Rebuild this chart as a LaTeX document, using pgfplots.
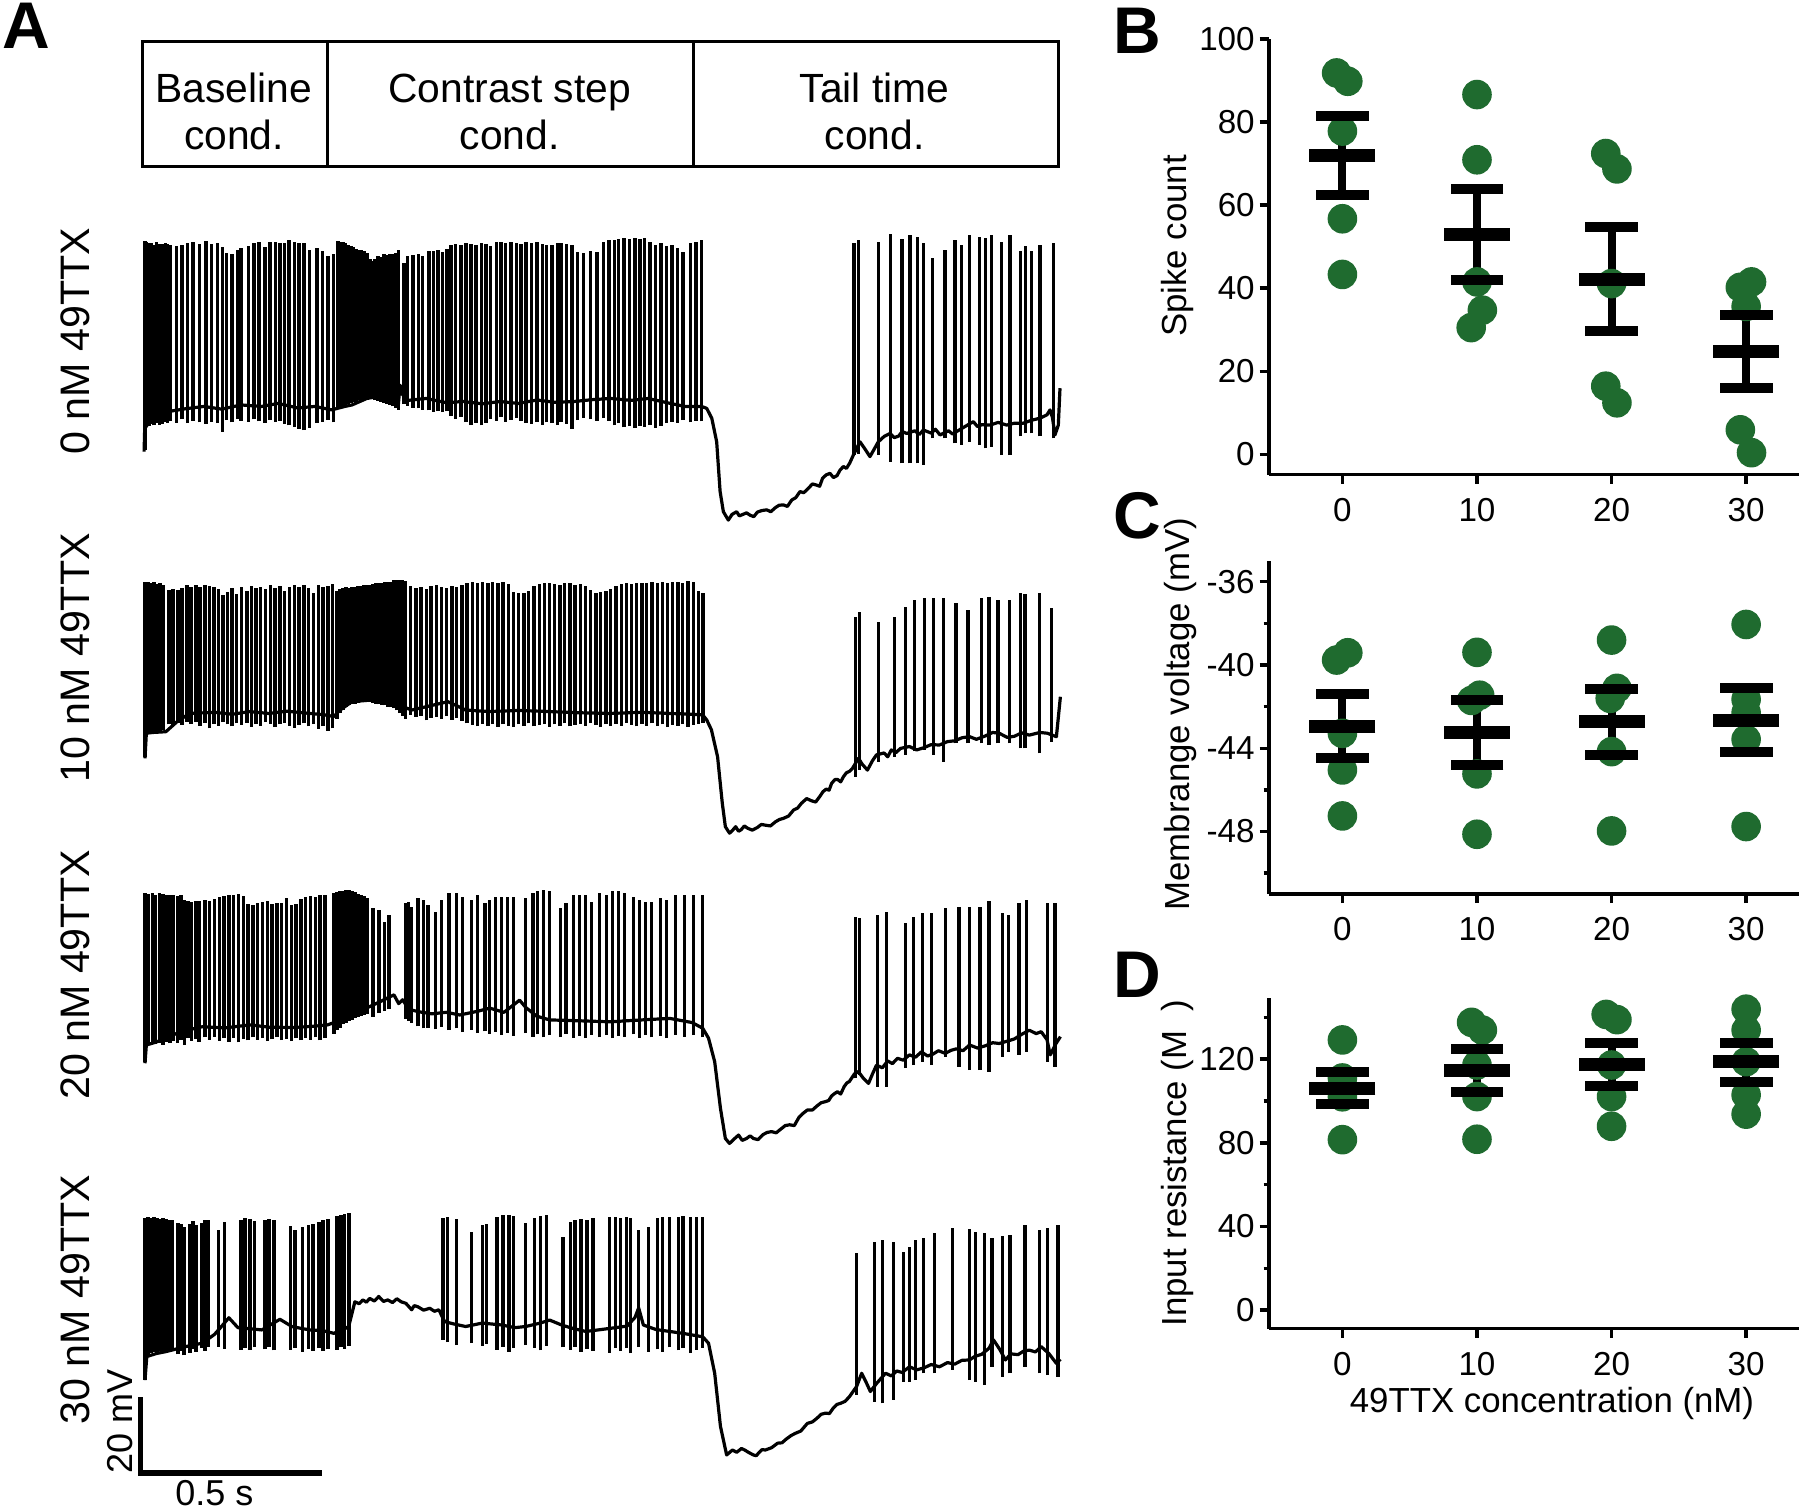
\documentclass[border=0pt]{standalone}
\usepackage{fontspec}
\setmainfont{Liberation Sans}
\usepackage{pgfplots}
\pgfplotsset{compat=1.18}
\definecolor{dotgreen}{RGB}{31,107,47}
\pgfplotsset{
  trace/.style={x=0.0905pt, y=0.95pt, xmin=0, xmax=2540, ymin=-80, ymax=5, hide axis, clip=false, anchor=south west},
  base/.style={black, line width=0.8pt, line join=round, mark=none},
  spk/.style={black, line width=0.85pt, mark=none, quiver={u=0, v=\thisrow{hi}-\thisrow{lo}}},
  rpanel/.style={scale only axis, width=132.45pt, anchor=south west, xmin=-5.47, xmax=33.9,
    xtick={0,10,20,30}, axis x line*=bottom, axis y line*=left,
    axis line style={line width=0.85pt}, tick align=outside,
    major tick length=2.3pt, minor tick length=1.3pt,
    tick style={line width=0.85pt, black},
    tick label style={font=\fontsize{8.3}{9}\selectfont},
    yticklabel style={xshift=2.3pt},
    label style={font=\fontsize{8.7}{10}\selectfont},
    /pgf/number format/assume math mode=true, clip=false},
  dots/.style={only marks, mark=*, mark size=3.5pt, color=dotgreen},
  meanbar/.style={only marks, mark=-, mark size=8.25pt, line width=3.25pt, black},
  capbar/.style={only marks, mark=-, mark size=6.6pt, line width=2.5pt, black},
  stem/.style={black, line width=2pt, mark=none, quiver={u=0, v=\thisrow{hi}-\thisrow{lo}}}
}
\begin{document}
\begin{tikzpicture}
\useasboundingbox (0,0) rectangle (450pt,377.25pt);
\node[font=\bfseries\fontsize{16.5}{18}\selectfont] at (6.5pt,370.75pt) {A};
\node[font=\bfseries\fontsize{16.5}{18}\selectfont] at (284.25pt,369.5pt) {B};
\node[font=\bfseries\fontsize{16.5}{18}\selectfont] at (284.25pt,248.25pt) {C};
\node[font=\bfseries\fontsize{16.5}{18}\selectfont] at (284.25pt,133.5pt) {D};

% ---------------- Trace 1 : 0 nM ----------------
\begin{axis}[trace, at={(35.5pt,242pt)}]
\draw[line width=0.7pt] (axis cs:1.7,18.5) rectangle (axis cs:2531.8,51.4);
\draw[line width=0.7pt] (axis cs:513.3,18.5) -- (axis cs:513.3,51.4);
\draw[line width=0.7pt] (axis cs:1523.5,18.5) -- (axis cs:1523.5,51.4);
\node[anchor=base, font=\fontsize{10.2}{12}\selectfont] at (axis cs:254,35.34) {Baseline};
\node[anchor=base, font=\fontsize{10.2}{12}\selectfont] at (axis cs:254,22.9) {cond.};
\node[anchor=base, font=\fontsize{10.2}{12}\selectfont] at (axis cs:1015.5,35.34) {Contrast step};
\node[anchor=base, font=\fontsize{10.2}{12}\selectfont] at (axis cs:1015.5,22.9) {cond.};
\node[anchor=base, font=\fontsize{10.2}{12}\selectfont] at (axis cs:2023.8,35.34) {Tail time};
\node[anchor=base, font=\fontsize{10.2}{12}\selectfont] at (axis cs:2023.8,22.9) {cond.};
\node[rotate=90, font=\fontsize{10.3}{12}\selectfont] at (axis cs:-185,-27.4) {0 nM 49TTX};
\addplot[base] table[row sep=\\] {t v\\
5.8 -56.5\\ 7.5 -50.4\\ 18 -49.0\\ 40 -47.8\\ 69 -46.0\\ 120 -45.2\\ 171 -44.6\\ 220 -45.3\\ 274 -44.2\\ 330 -44.6\\
376 -43.8\\ 430 -45.0\\ 478 -44.6\\ 524 -45.5\\ 560 -44.6\\ 580 -44.2\\ 621 -42.5\\ 650 -42.0\\ 672 -42.9\\ 708 -44.2\\
713 -39.0\\ 720 -41.5\\ 735 -43.0\\ 785 -42.5\\ 840 -43.6\\ 887 -43.3\\ 940 -43.9\\ 989 -43.3\\ 1040 -43.8\\ 1091 -42.9\\
1140 -43.5\\ 1193 -43.3\\ 1245 -42.8\\ 1296 -42.5\\ 1350 -43.0\\ 1398 -42.5\\ 1450 -43.6\\ 1500 -44.6\\ 1546 -44.6\\ 1560 -45.1\\
1574 -47.7\\ 1587.5 -53.9\\ 1597 -67.0\\ 1606 -72.3\\ 1619.7 -74.5\\ 1630 -73.0\\ 1642.7 -72.3\\ 1650 -73.4\\ 1660 -73.0\\ 1670 -72.6\\
1679.5 -73.2\\ 1690 -73.6\\ 1700 -72.4\\ 1712 -72.0\\ 1725.6 -71.8\\ 1737 -72.3\\ 1750 -71.2\\ 1760 -70.6\\ 1771.6 -70.5\\ 1783 -70.9\\
1795 -69.2\\ 1806 -68.6\\ 1817.7 -67.0\\ 1828 -67.3\\ 1840 -66.2\\ 1852 -65.0\\ 1863.7 -65.3\\ 1872 -65.6\\ 1880 -63.5\\ 1890 -62.6\\
1900.5 -62.2\\ 1910 -63.3\\ 1920 -62.8\\ 1928 -61.4\\ 1937.4 -60.4\\ 1946 -60.9\\ 1955 -59.5\\ 1965 -57.4\\ 1983.4 -53.9\\ 1995 -55.5\\
2011 -57.8\\ 2034 -53.9\\ 2050 -52.5\\ 2066.3 -51.7\\ 2078 -52.8\\ 2090 -52.4\\ 2100 -51.2\\ 2112.3 -51.7\\ 2135 -51.0\\ 2147 -52.0\\
2158.4 -50.8\\ 2180 -51.6\\ 2192 -50.6\\ 2204.4 -52.1\\ 2228 -51.0\\ 2240 -51.9\\ 2250.4 -51.2\\ 2275 -49.8\\ 2296.5 -48.6\\ 2308 -49.9\\
2320 -49.4\\ 2342.5 -49.5\\ 2365 -48.8\\ 2388.6 -49.5\\ 2410 -49.0\\ 2434.6 -49.0\\ 2458 -48.2\\ 2480.6 -47.7\\ 2500 -46.8\\ 2508.3 -45.5\\
2515 -47.5\\ 2522 -52.1\\ 2531.3 -49.5\\ 2535.9 -39.8\\
};
\addplot[spk] table[x=t, y=lo, row sep=\\] {t lo hi\\
7.9 -56 -1.0\\ 13 -49.5 -1.3\\ 20.1 -49.8 -1.6\\ 26.3 -49.2 -1.5\\ 33.4 -49.6 -2.0\\ 40.6 -49.0 -1.4\\ 48.8 -49.4 -1.8\\ 56.9 -49.2 -1.9\\ 64.1 -48.8 -1.5\\ 71.2 -49.0 -1.9\\
79.4 -48.5 -2.0\\ 94.8 -48.9 -2.3\\ 110.1 -48.0 -2.0\\ 125.4 -49.0 -1.6\\ 140.7 -48.4 -1.2\\ 159.1 -48.8 -1.8\\ 176.5 -49.2 -1.1\\ 191.8 -48.6 -1.9\\ 209.2 -49.0 -1.6\\ 222.5 -51.2 -2.6\\
232.7 -48.2 -4.3\\ 248.1 -48.8 -4.6\\ 263.4 -47.9 -3.4\\ 273.6 -48.3 -3.0\\ 294.0 -48.6 -2.3\\ 309.4 -48.0 -1.7\\ 322.7 -48.5 -1.2\\ 340.0 -48.9 -2.6\\ 353.3 -48.2 -1.4\\ 368.6 -48.7 -1.3\\
380.9 -48.4 -1.5\\ 394.2 -49.2 -1.6\\ 406.5 -49.6 -0.8\\ 421.8 -50.0 -1.4\\ 434.1 -50.5 -1.7\\ 447.3 -50.8 -1.5\\ 462.7 -50.2 -3.4\\ 483.1 -49.0 -2.8\\ 498.4 -48.6 -3.6\\ 513.8 -48.2 -4.9\\ 529.1 -48.8 -4.6\\
541.4 -45.0 -1.0\\ 547.5 -44.8 -1.2\\ 554.7 -44.6 -1.4\\ 561.8 -44.2 -1.7\\ 570.0 -44.0 -2.0\\ 577.1 -43.8 -2.4\\ 584.3 -43.5 -2.6\\ 591.4 -43.3 -3.1\\ 598.6 -43.0 -3.4\\ 605.8 -42.8 -3.5\\
612.9 -42.6 -3.7\\ 621.1 -42.5 -4.2\\ 629.3 -42.5 -5.8\\ 636.4 -42.7 -6.4\\ 643.6 -42.9 -5.9\\ 651.7 -43.1 -5.0\\ 659.9 -43.3 -5.2\\ 668.1 -43.6 -4.6\\ 676.3 -43.9 -4.8\\ 684.4 -44.2 -4.6\\
692.6 -44.6 -4.4\\ 700.8 -44.9 -4.2\\ 709.0 -45.4 -3.4\\
723.3 -44.0 -6.9\\ 733.5 -44.4 -5.0\\ 748.8 -44.9 -4.8\\ 764.2 -45.1 -4.6\\ 774.4 -45.5 -4.9\\ 792.8 -45.6 -3.6\\ 805.0 -46.0 -3.8\\ 817.3 -45.8 -3.4\\ 830.6 -46.1 -3.9\\ 842.9 -45.9 -3.2\\
854.1 -47.0 -2.2\\ 866.4 -47.9 -1.8\\ 881.7 -47.4 -2.0\\ 895.0 -48.7 -1.7\\ 909.3 -49.5 -1.9\\ 922.6 -48.9 -2.2\\ 937.9 -49.6 -1.6\\ 950.2 -49.0 -1.8\\ 963.5 -47.9 -2.3\\ 978.8 -48.3 -1.4\\
992.1 -47.5 -1.3\\ 1004.3 -48.6 -1.5\\ 1019.7 -48.1 -1.3\\ 1035.0 -47.6 -1.6\\ 1047.3 -48.3 -1.9\\ 1060.5 -48.9 -1.4\\ 1075.9 -49.2 -1.7\\ 1091.2 -48.7 -1.3\\ 1106.5 -49.4 -1.8\\ 1116.8 -48.8 -2.0\\
1132.1 -49.0 -2.1\\ 1147.4 -49.5 -1.5\\ 1157.6 -48.6 -1.6\\ 1173.0 -49.1 -1.8\\ 1188.3 -50.4 -2.0\\ 1203.6 -48.2 -3.9\\ 1219.0 -47.6 -4.3\\ 1239.4 -48.0 -3.6\\ 1256.8 -48.4 -4.0\\ 1275.2 -47.7 -1.4\\
1290.5 -48.3 -0.9\\ 1305.8 -49.6 -0.8\\ 1316.0 -49.0 -0.5\\ 1331.4 -50.1 -0.4\\ 1346.7 -49.8 -0.6\\ 1362.0 -50.3 -0.2\\ 1375.3 -49.7 -0.5\\ 1387.6 -50.0 -0.3\\ 1402.9 -49.4 -1.2\\ 1418.2 -50.2 -2.0\\
1433.6 -49.8 -1.7\\ 1448.9 -49.0 -2.5\\ 1464.2 -48.6 -2.2\\ 1479.6 -48.9 -2.9\\ 1494.9 -48.2 -3.9\\ 1515.3 -48.8 -1.6\\ 1530.7 -48.4 -1.2\\ 1546.0 -48.5 -0.8\\
1966.8 -57.4 -1.7\\ 1978.8 -57.0 -0.8\\ 2034.0 -57.4 -1.2\\ 2067.2 -59.1 0.7\\ 2099.4 -59.6 -0.5\\ 2121.5 -59.6 0.5\\ 2142.7 -59.6 0.1\\ 2158.4 -60.0 -1.7\\ 2183.2 -53.0 -5.6\\ 2218.2 -53.0 -3.4\\
2245.8 -54.3 -0.8\\ 2264.3 -54.7 -2.0\\ 2285.4 -53.9 0.5\\ 2313.0 -54.7 0.1\\ 2330.5 -55.6 -0.3\\ 2347.1 -55.2 0.4\\ 2374.7 -57.4 -1.4\\ 2397.8 -57.4 0.5\\ 2427.2 -52.5 -3.7\\ 2441.0 -51.7 -2.5\\
2457.6 -51.7 -3.7\\ 2480.6 -52.5 -2.0\\ 2517.5 -53.0 -1.7\\
};
\end{axis}

% ---------------- Trace 2 : 10 nM ----------------
\begin{axis}[trace, at={(35.5pt,165.25pt)}]
\node[rotate=90, font=\fontsize{10.3}{12}\selectfont] at (axis cs:-185,-30) {10 nM 49TTX};
\addplot[base] table[row sep=\\] {t v\\
8.3 -56.4\\ 12 -49.8\\ 30 -49.6\\ 66 -49.4\\ 100 -46.5\\ 132 -44.6\\ 200 -44.3\\ 250 -44.8\\ 298 -44.1\\ 350 -44.6\\
400 -44.0\\ 464 -44.6\\ 500 -44.9\\ 530 -45.4\\ 547 -43.7\\ 580 -41.5\\ 629 -41.1\\ 660 -41.4\\ 696 -41.9\\ 720 -42.8\\
745 -43.7\\ 800 -42.5\\ 845 -41.5\\ 870 -42.6\\ 894 -43.7\\ 960 -44.1\\ 1040 -43.8\\ 1126 -44.1\\ 1200 -44.4\\ 1292 -44.6\\
1380 -44.3\\ 1458 -44.6\\ 1520 -44.8\\ 1549 -45.0\\ 1560 -46.3\\ 1573 -48.9\\ 1590 -56.0\\ 1603 -68.2\\ 1611.5 -74.4\\ 1623 -76.1\\
1630 -75.5\\ 1640 -74.4\\ 1648 -75.6\\ 1655 -75.2\\ 1664 -74.2\\ 1673 -74.8\\ 1686 -75.3\\ 1700 -74.6\\ 1711 -73.8\\ 1722 -74.0\\
1736 -74.2\\ 1750 -73.1\\ 1761 -72.5\\ 1772 -72.2\\ 1786 -71.6\\ 1800 -70.0\\ 1811 -69.5\\ 1822 -68.2\\ 1836 -67.0\\ 1850 -67.6\\
1861 -67.9\\ 1872 -66.5\\ 1881 -65.2\\ 1890 -64.5\\ 1898 -64.8\\ 1905 -63.0\\ 1914 -62.0\\ 1922 -62.0\\ 1930 -62.6\\ 1938 -61.2\\
1946 -60.2\\ 1955 -59.8\\ 1963 -59.0\\ 1979 -56.4\\ 1990 -58.0\\ 2004 -59.5\\ 2018 -57.0\\ 2029 -55.5\\ 2050 -55.0\\ 2060 -56.0\\
2070 -54.2\\ 2083 -54.9\\ 2095 -53.8\\ 2120 -53.3\\ 2140 -54.2\\ 2160 -53.6\\ 2180 -52.8\\ 2203 -52.9\\ 2225 -52.0\\ 2245 -51.8\\
2265 -51.0\\ 2286 -50.7\\ 2305 -51.4\\ 2330 -50.5\\ 2350 -49.6\\ 2368 -49.8\\ 2390 -50.9\\ 2410 -50.6\\ 2430 -49.7\\ 2451 -50.3\\
2480 -49.6\\ 2501 -49.8\\ 2520 -50.5\\ 2526 -50.7\\ 2537 -40.2\\
};
\addplot[spk] table[x=t, y=lo, row sep=\\] {t lo hi\\
8.3 -56.0 -9.9\\ 16.6 -49.8 -10.0\\ 24.9 -49.6 -10.2\\ 33.1 -49.4 -10.0\\ 41.4 -49.5 -10.5\\ 49.7 -49.2 -10.3\\ 58.0 -49.0 -10.8\\
74.5 -47.5 -12.0\\ 86.1 -48.0 -11.8\\ 99.4 -47.2 -12.1\\ 111.0 -47.6 -11.6\\ 124.2 -46.8 -10.9\\ 135.8 -47.4 -11.2\\ 149.0 -46.9 -10.8\\ 160.7 -47.8 -11.3\\ 173.9 -47.1 -10.9\\ 187.2 -48.5 -11.0\\
198.8 -47.3 -11.4\\ 212.0 -47.8 -11.9\\ 223.6 -46.9 -13.5\\ 236.9 -47.5 -12.6\\ 248.5 -48.0 -11.5\\ 261.7 -47.2 -13.2\\ 275.0 -47.6 -11.3\\ 289.9 -47.0 -12.4\\ 303.1 -48.1 -11.0\\ 314.7 -47.4 -11.5\\
328.0 -47.8 -11.2\\ 341.2 -46.9 -11.9\\ 354.5 -47.3 -10.9\\ 367.7 -48.2 -11.6\\ 381.0 -47.5 -11.0\\ 394.2 -47.0 -12.3\\ 407.5 -47.8 -11.4\\ 420.7 -48.4 -10.8\\ 434.0 -47.6 -11.3\\ 447.2 -47.2 -10.9\\
460.5 -48.0 -11.7\\ 473.7 -47.4 -12.8\\ 487.0 -48.6 -10.9\\ 500.2 -47.9 -11.2\\ 513.5 -49.2 -11.0\\ 526.7 -48.5 -10.5\\
538.3 -46.0 -12.5\\ 546.6 -44.5 -11.8\\ 554.9 -43.6 -11.6\\ 563.2 -43.0 -11.4\\ 571.4 -42.5 -11.5\\ 579.7 -42.2 -11.3\\ 588.0 -42.0 -11.2\\ 596.3 -41.8 -11.0\\ 604.5 -41.6 -11.0\\ 612.8 -41.5 -10.9\\
621.1 -41.7 -10.7\\ 629.4 -41.6 -10.8\\ 637.6 -41.9 -10.5\\ 645.9 -42.0 -10.4\\ 654.2 -42.2 -10.3\\ 662.5 -42.4 -10.4\\ 670.7 -42.5 -10.1\\ 679.0 -42.8 -10.0\\ 687.3 -43.0 -9.9\\ 695.6 -43.2 -9.6\\
703.8 -43.8 -9.5\\ 712.1 -44.5 -9.4\\ 720.4 -45.2 -9.6\\ 728.7 -46.0 -9.8\\
742.0 -45.0 -11.0\\ 756.9 -45.5 -11.5\\ 770.2 -45.2 -11.2\\ 785.1 -46.4 -11.8\\ 798.3 -45.7 -11.0\\ 813.2 -45.4 -10.9\\ 828.1 -46.0 -11.3\\ 841.3 -45.3 -11.6\\ 856.2 -46.2 -11.0\\ 869.5 -45.8 -11.4\\
884.4 -46.5 -10.8\\ 897.6 -47.2 -10.3\\ 912.5 -47.6 -10.1\\ 927.4 -48.0 -10.2\\ 940.7 -47.3 -10.0\\ 955.6 -47.9 -10.4\\ 968.8 -47.4 -10.1\\ 983.7 -48.1 -10.3\\ 997.0 -47.5 -10.0\\ 1011.9 -47.8 -10.6\\
1026.8 -48.2 -12.6\\ 1040.0 -47.4 -13.0\\ 1054.9 -47.9 -12.8\\ 1068.2 -47.2 -12.4\\ 1083.1 -48.0 -11.0\\ 1098.0 -47.6 -10.6\\ 1111.2 -47.3 -10.3\\ 1126.1 -48.1 -10.2\\ 1139.4 -47.5 -10.5\\ 1154.3 -47.9 -10.9\\
1167.5 -47.2 -10.4\\ 1182.4 -48.0 -10.3\\ 1195.7 -47.6 -10.7\\ 1210.6 -47.3 -10.5\\ 1225.5 -47.8 -11.0\\ 1238.7 -47.0 -12.2\\ 1253.6 -47.6 -12.8\\ 1266.9 -48.2 -12.6\\ 1281.8 -47.4 -12.3\\ 1295.0 -47.9 -11.8\\
1309.9 -47.3 -11.0\\ 1324.8 -47.8 -10.6\\ 1338.1 -47.1 -10.4\\ 1353.0 -47.6 -10.5\\ 1366.2 -48.0 -10.3\\ 1381.1 -47.4 -10.2\\ 1394.4 -47.8 -10.4\\ 1409.3 -47.2 -10.1\\ 1424.2 -47.9 -10.3\\ 1437.4 -47.5 -10.0\\
1452.3 -48.2 -10.2\\ 1465.6 -47.6 -10.1\\ 1480.5 -47.8 -10.0\\ 1493.8 -47.4 -10.3\\ 1508.7 -48.1 -9.8\\ 1523.6 -47.6 -9.9\\ 1536.8 -47.3 -12.5\\ 1550.1 -47.0 -12.8\\
1970.9 -61.2 -19.1\\ 1982.5 -59.5 -17.8\\ 2033.8 -57.3 -20.4\\ 2078.6 -56.0 -19.1\\ 2108.4 -55.5 -16.5\\ 2133.2 -54.6 -14.7\\ 2161.4 -54.2 -14.3\\ 2186.2 -55.5 -14.3\\ 2214.3 -57.3 -14.3\\ 2249.1 -52.5 -15.6\\
2282.2 -52.5 -17.4\\ 2318.7 -52.5 -14.3\\ 2340.2 -52.9 -13.9\\ 2365.1 -52.5 -14.7\\ 2396.5 -52.5 -14.7\\ 2426.4 -53.8 -13.0\\ 2439.6 -53.8 -13.2\\ 2479.4 -55.1 -13.0\\ 2512.5 -52.0 -16.9\\
};
\end{axis}

% ---------------- Trace 3 : 20 nM ----------------
\begin{axis}[trace, at={(35.5pt,86.925pt)}]
\node[rotate=90, font=\fontsize{10.3}{12}\selectfont] at (axis cs:-185,-31) {20 nM 49TTX};
\addplot[base] table[row sep=\\] {t v\\
8.3 -54.2\\ 12 -49.4\\ 40 -48.6\\ 66 -47.5\\ 110 -45.8\\ 166 -44.6\\ 230 -44.9\\ 298 -44.1\\ 350 -44.7\\ 414 -44.8\\
470 -44.5\\ 513 -44.1\\ 530 -43.5\\ 563 -41.5\\ 600 -40.5\\ 629 -39.3\\ 662 -37.8\\ 696 -36.2\\ 709 -38.5\\ 720 -37.5\\
737 -40.0\\ 762 -40.6\\ 800 -41.2\\ 840 -40.8\\ 878 -41.5\\ 928 -40.5\\ 961 -39.7\\ 1000 -40.8\\ 1043 -37.6\\ 1060 -39.5\\
1090 -41.8\\ 1126 -42.8\\ 1200 -43.0\\ 1292 -43.3\\ 1380 -42.8\\ 1458 -42.4\\ 1520 -43.5\\ 1549 -45.0\\ 1565 -47.6\\ 1582 -53.8\\
1598 -66.1\\ 1611.5 -74.0\\ 1623 -75.3\\ 1635 -74.2\\ 1648 -73.1\\ 1658 -74.5\\ 1670 -74.0\\ 1680 -73.3\\ 1689 -74.0\\ 1702 -74.3\\
1715 -73.0\\ 1727 -72.4\\ 1739 -72.2\\ 1752 -72.5\\ 1765 -71.5\\ 1777 -70.6\\ 1789 -70.4\\ 1802 -70.6\\ 1815 -68.4\\ 1826 -67.4\\
1838 -66.5\\ 1852 -66.5\\ 1865 -65.4\\ 1876 -64.6\\ 1888 -64.3\\ 1897 -64.0\\ 1905 -62.8\\ 1913 -62.2\\ 1921 -61.7\\ 1930 -62.3\\
1940 -60.3\\ 1947 -59.4\\ 1954 -59.0\\ 1968 -57.0\\ 1979 -56.4\\ 1993 -58.2\\ 2007 -59.5\\ 2018 -57.0\\ 2029 -54.7\\ 2045 -55.4\\
2060 -53.6\\ 2073 -54.3\\ 2087 -52.9\\ 2103 -53.4\\ 2120 -52.0\\ 2137 -52.6\\ 2153 -51.2\\ 2170 -52.3\\ 2185 -51.8\\ 2200 -50.9\\
2219 -51.6\\ 2235 -50.8\\ 2250 -50.4\\ 2268 -50.9\\ 2286 -49.4\\ 2308 -50.2\\ 2330 -49.6\\ 2350 -48.8\\ 2368 -49.0\\ 2390 -48.4\\
2410 -47.8\\ 2430 -46.6\\ 2451 -45.5\\ 2470 -46.4\\ 2484 -45.9\\ 2500 -48.0\\ 2509 -52.0\\ 2525 -49.0\\ 2537 -47.2\\
};
\addplot[spk] table[x=t, y=lo, row sep=\\] {t lo hi\\
8.3 -54.0 -9.5\\ 18.2 -49.4 -9.6\\ 28.2 -49.0 -9.4\\ 38.1 -49.2 -9.8\\ 48.1 -48.8 -9.5\\ 58.0 -49.3 -9.7\\ 67.9 -48.6 -9.9\\ 77.9 -49.0 -10.0\\ 87.8 -48.4 -9.8\\ 97.7 -48.9 -10.1\\
107.7 -48.2 -10.0\\ 117.6 -49.4 -11.2\\ 127.6 -47.6 -11.5\\ 137.5 -48.3 -11.7\\ 147.4 -47.9 -11.4\\ 157.4 -48.5 -11.6\\ 174.0 -47.4 -11.2\\ 187.2 -48.0 -11.5\\ 200.4 -47.2 -11.0\\ 213.7 -48.3 -10.5\\
226.9 -47.6 -10.2\\ 240.2 -48.5 -10.0\\ 253.4 -47.5 -9.9\\ 266.7 -48.7 -9.7\\ 279.9 -47.8 -10.3\\ 293.2 -48.2 -12.4\\ 306.4 -47.4 -12.5\\ 319.7 -48.0 -12.0\\ 332.9 -47.6 -11.8\\ 346.2 -48.4 -11.6\\
359.4 -47.9 -12.2\\ 372.7 -47.3 -12.0\\ 385.9 -48.1 -11.9\\ 399.2 -47.7 -10.8\\ 412.4 -48.4 -12.6\\ 425.7 -47.6 -12.3\\ 438.9 -48.2 -11.0\\ 452.2 -47.5 -10.4\\ 465.4 -48.0 -10.2\\ 478.7 -47.4 -10.5\\
491.9 -48.2 -9.9\\ 505.2 -47.6 -10.0\\
530.0 -46.5 -9.5\\ 538.3 -45.5 -9.2\\ 546.6 -44.8 -9.0\\ 554.9 -44.0 -8.8\\ 563.2 -43.5 -8.6\\ 571.4 -43.0 -8.7\\ 579.7 -42.7 -8.9\\ 588.0 -42.3 -9.2\\ 596.3 -42.0 -9.6\\ 604.5 -41.8 -10.0\\
612.8 -41.5 -10.3\\ 621.1 -41.3 -10.8\\ 637.6 -42.0 -13.4\\ 654.2 -41.0 -13.9\\ 670.7 -40.5 -17.0\\ 682.4 -40.0 -15.2\\
728.7 -42.5 -12.1\\ 737.0 -43.0 -11.7\\ 745.3 -43.6 -13.0\\ 761.9 -44.5 -10.8\\ 778.4 -45.0 -11.2\\ 790.0 -44.8 -12.6\\ 811.6 -45.3 -14.3\\ 828.1 -44.6 -11.2\\ 848.0 -45.5 -9.5\\ 869.5 -45.0 -9.5\\
886.1 -46.0 -10.4\\ 910.9 -45.4 -11.2\\ 927.5 -46.3 -9.9\\ 947.4 -45.8 -12.1\\ 960.6 -46.5 -11.2\\ 977.2 -45.9 -10.4\\ 993.7 -46.8 -10.4\\ 1010.3 -46.2 -10.4\\ 1026.9 -47.0 -10.4\\ 1060.0 -46.3 -10.8\\
1079.9 -47.2 -9.5\\ 1093.1 -46.6 -9.0\\ 1109.7 -47.4 -8.6\\ 1126.2 -46.8 -9.0\\ 1156.0 -47.3 -13.4\\ 1171.0 -46.5 -12.1\\ 1192.5 -47.5 -9.9\\ 1209.1 -46.9 -9.9\\ 1225.6 -47.6 -9.9\\ 1242.2 -46.7 -11.7\\
1263.7 -47.4 -9.5\\ 1283.6 -46.8 -9.9\\ 1300.1 -47.6 -9.0\\ 1316.7 -46.9 -9.0\\ 1333.3 -47.3 -9.5\\ 1358.1 -46.6 -10.4\\ 1374.7 -47.5 -11.2\\ 1391.2 -46.8 -11.7\\ 1407.8 -47.4 -11.7\\ 1432.6 -46.9 -10.8\\
1449.2 -47.6 -11.2\\ 1474.0 -46.7 -9.9\\ 1498.9 -47.2 -9.9\\ 1523.7 -46.8 -9.9\\ 1548.5 -47.4 -9.9\\
1970.9 -58.2 -15.6\\ 1982.5 -57.3 -16.1\\ 2032.2 -60.4 -15.2\\ 2057.0 -60.4 -14.3\\ 2108.4 -55.5 -17.4\\ 2131.6 -54.7 -15.6\\ 2156.4 -53.8 -14.7\\ 2181.3 -54.7 -14.7\\ 2219.3 -52.5 -13.4\\ 2257.4 -55.1 -13.0\\
2285.6 -56.0 -13.0\\ 2315.4 -56.0 -13.0\\ 2340.2 -56.4 -11.5\\ 2376.7 -52.5 -14.7\\ 2393.2 -51.2 -15.2\\ 2423.0 -52.0 -12.1\\ 2442.9 -51.2 -11.2\\ 2500.9 -53.8 -12.1\\ 2522.4 -55.1 -12.1\\
};
\end{axis}

% ---------------- Trace 4 : 30 nM ----------------
\begin{axis}[trace, at={(35.5pt,9.425pt)}]
\node[rotate=90, font=\fontsize{10.3}{12}\selectfont] at (axis cs:-185,-34.9) {30 nM 49TTX};
\draw[line width=1.4pt] (axis cs:-4,-60.5) -- (axis cs:-4,-80.5) -- (axis cs:496,-80.5);
\node[rotate=90, font=\fontsize{9}{10}\selectfont] at (axis cs:-61,-67) {20 mV};
\node[anchor=base, inner sep=0pt, font=\fontsize{9}{10}\selectfont] at (axis cs:200,-88.9) {0.5 s};
\addplot[base] table[row sep=\\] {t v\\
8.3 -56.0\\ 13.3 -49.8\\ 40 -49.0\\ 66 -48.5\\ 120 -47.2\\ 166 -46.3\\ 200 -44.0\\ 215 -42.4\\ 240 -39.6\\ 265 -42.2\\
300 -42.5\\ 331 -42.8\\ 381 -40.0\\ 414 -41.9\\ 440 -42.4\\ 464 -42.8\\ 500 -43.0\\ 530 -43.7\\ 560 -42.5\\ 571 -41.9\\
588 -35.4\\ 600 -35.9\\ 610 -34.9\\ 620 -35.5\\ 629 -34.5\\ 642 -35.2\\ 654 -34.0\\ 667 -35.3\\ 679 -34.9\\ 692 -35.6\\
704 -34.6\\ 716 -35.4\\ 729 -35.8\\ 745 -37.5\\ 752 -36.4\\ 762 -36.7\\ 778 -37.6\\ 795 -37.1\\ 808 -37.9\\ 820 -37.5\\
836 -40.6\\ 860 -41.2\\ 894 -41.9\\ 940 -41.0\\ 994 -41.5\\ 1030 -42.2\\ 1060 -41.9\\ 1100 -41.0\\ 1126 -40.2\\ 1159 -41.5\\
1190 -42.4\\ 1226 -43.2\\ 1260 -42.8\\ 1292 -42.4\\ 1340 -41.8\\ 1362 -39.5\\ 1372 -37.0\\ 1385 -41.5\\ 1420 -42.7\\ 1458 -43.2\\
1500 -43.8\\ 1549 -44.6\\ 1565 -46.3\\ 1582 -54.2\\ 1598 -68.2\\ 1615 -75.7\\ 1631 -74.4\\ 1643 -75.0\\ 1656 -74.0\\ 1665 -74.4\\
1675 -75.0\\ 1689 -75.7\\ 1697 -75.9\\ 1705 -75.0\\ 1713 -74.3\\ 1722 -74.4\\ 1739 -73.8\\ 1756 -72.6\\ 1768 -72.5\\ 1780 -71.5\\
1793 -70.6\\ 1805 -70.0\\ 1820 -69.4\\ 1838 -67.4\\ 1852 -67.0\\ 1865 -66.0\\ 1876 -65.0\\ 1888 -64.7\\ 1899 -64.8\\ 1910 -63.3\\
1920 -62.4\\ 1930 -62.1\\ 1942 -61.6\\ 1954 -60.4\\ 1968 -58.5\\ 1974 -57.7\\ 1988 -54.2\\ 2000 -56.5\\ 2012 -59.0\\ 2030 -56.8\\
2054 -54.2\\ 2070 -54.9\\ 2085 -53.6\\ 2100 -54.0\\ 2120 -52.5\\ 2140 -53.3\\ 2160 -52.8\\ 2180 -51.9\\ 2203 -52.5\\ 2225 -51.4\\
2245 -51.8\\ 2265 -50.8\\ 2286 -50.7\\ 2300 -49.8\\ 2320 -49.2\\ 2340 -47.6\\ 2352 -45.4\\ 2370 -48.0\\ 2385 -50.7\\ 2400 -49.1\\
2420 -49.3\\ 2435 -48.4\\ 2451 -48.1\\ 2468 -48.6\\ 2484 -47.2\\ 2505 -49.0\\ 2526 -51.6\\ 2537 -50.5\\
};
\addplot[spk] table[x=t, y=lo, row sep=\\] {t lo hi\\
8.3 -56.0 -13.4\\ 16.6 -49.5 -13.2\\ 24.9 -49.0 -13.4\\ 33.1 -48.6 -13.1\\ 41.4 -49.0 -13.3\\ 49.7 -48.4 -13.5\\ 58.0 -48.8 -13.4\\ 66.3 -48.2 -13.6\\ 74.5 -48.6 -13.9\\ 82.8 -48.0 -14.0\\
99.4 -49.2 -14.7\\ 107.7 -48.4 -15.0\\ 116.0 -49.5 -15.6\\ 132.5 -48.8 -14.8\\ 140.8 -47.9 -14.2\\ 149.1 -48.6 -15.3\\ 165.6 -47.6 -14.6\\ 173.9 -48.3 -14.0\\ 182.2 -47.4 -13.9\\ 212.0 -47.2 -16.5\\
228.6 -47.8 -14.3\\ 273.3 -48.0 -13.9\\ 284.9 -47.5 -13.4\\ 298.1 -48.1 -13.6\\ 311.4 -47.3 -14.1\\ 339.5 -47.9 -13.8\\ 351.1 -47.4 -13.5\\ 364.4 -48.2 -14.0\\ 410.8 -48.0 -15.5\\ 422.3 -47.5 -16.4\\
443.9 -48.5 -15.8\\ 460.4 -47.7 -15.2\\ 472.0 -48.3 -14.8\\ 488.6 -47.6 -14.3\\ 500.2 -48.4 -13.9\\ 513.4 -47.9 -13.6\\ 538.3 -48.0 -12.8\\ 549.9 -47.4 -12.5\\ 559.8 -47.8 -12.2\\ 571.4 -47.0 -11.9\\
831.4 -45.4 -13.4\\ 844.7 -46.0 -13.2\\ 869.5 -46.8 -13.6\\ 911.0 -46.3 -16.9\\ 940.8 -47.0 -15.2\\ 952.3 -46.5 -15.0\\ 980.5 -48.0 -13.0\\ 997.0 -47.2 -12.6\\ 1013.6 -48.5 -12.5\\ 1026.9 -47.6 -12.8\\
1060.0 -46.8 -14.7\\ 1084.8 -47.5 -13.4\\ 1101.4 -48.2 -12.9\\ 1118.0 -46.9 -12.5\\ 1162.7 -47.4 -18.3\\ 1184.2 -48.0 -14.3\\ 1195.8 -47.2 -14.0\\ 1212.4 -48.6 -13.6\\ 1228.9 -47.8 -13.9\\ 1245.5 -48.3 -13.4\\
1291.9 -48.8 -13.0\\ 1308.4 -47.5 -13.2\\ 1321.7 -48.4 -13.4\\ 1338.2 -47.6 -13.0\\ 1349.8 -49.0 -13.3\\ 1371.4 -47.3 -16.5\\ 1399.5 -48.6 -15.6\\ 1424.4 -47.9 -13.4\\ 1437.6 -48.5 -13.2\\ 1457.5 -47.4 -13.0\\
1482.4 -48.2 -13.0\\ 1494.0 -47.6 -12.8\\ 1515.5 -48.9 -13.2\\ 1532.1 -48.0 -13.0\\ 1548.6 -47.5 -13.1\\
1974.2 -59.9 -22.6\\ 2023.9 -61.7 -19.6\\ 2045.4 -62.1 -19.1\\ 2075.2 -61.2 -19.6\\ 2103.4 -56.4 -22.2\\ 2120.0 -56.4 -20.9\\ 2136.5 -56.0 -19.1\\ 2158.1 -54.2 -18.7\\ 2189.5 -54.2 -17.4\\ 2239.2 -53.3 -16.1\\
2285.6 -56.0 -16.3\\ 2302.1 -56.4 -16.9\\ 2327.0 -57.3 -17.4\\ 2348.5 -52.5 -18.7\\ 2376.7 -55.1 -18.2\\ 2398.2 -54.2 -17.8\\ 2439.6 -52.5 -15.2\\ 2479.3 -54.2 -16.5\\ 2500.9 -54.7 -16.1\\ 2530.0 -55.1 -15.2\\
};
\end{axis}

% ---------------- Panel B ----------------
\begin{axis}[rpanel, at={(317.2pt,258.575pt)}, height=108.95pt, ymin=-4.9, ymax=100,
  ytick={0,20,40,60,80,100}, ylabel={Spike count},
  ylabel style={at={(axis description cs:-0.1714,0.525)}, anchor=center}]
\addplot[dots] coordinates {(-0.43,91.8) (0.4,89.8) (0,77.8) (0,56.7) (0,43.3)
 (10,86.6) (10,70.9) (10,41.5) (10.4,34.7) (9.57,30.5)
 (19.57,72.4) (20.4,68.7) (20,41.1) (19.57,16.4) (20.4,12.4)
 (30.4,41.5) (29.57,40.2) (30,35.6) (29.57,5.9) (30.4,0.4)};
\addplot[stem] table[x=x, y=lo, row sep=\\] {x lo hi\\ 0 62.4 81.5\\ 10 41.9 63.8\\ 20 29.7 54.6\\ 30 15.9 33.6\\};
\addplot[capbar] coordinates {(0,81.5) (10,63.8) (20,54.6) (30,33.6) (0,62.4) (10,41.9) (20,29.7) (30,15.9)};
\addplot[meanbar] coordinates {(0,72.0) (10,52.8) (20,42.1) (30,24.8)};
\end{axis}

% ---------------- Panel C ----------------
\begin{axis}[rpanel, at={(317.2pt,153.75pt)}, height=83.25pt, ymin=-51, ymax=-35,
  ytick={-36,-40,-44,-48}, minor ytick={-38,-42,-46,-50}, ylabel={Membrange voltage (mV)},
  ylabel style={at={(axis description cs:-0.1676,0.54)}, anchor=center}]
\addplot[dots] coordinates {(-0.43,-39.76) (0.4,-39.41) (0,-43.28) (0,-45.04) (0,-47.25)
 (10,-39.39) (9.6,-41.7) (10.2,-41.45) (10,-45.23) (10,-48.13)
 (20,-38.8) (20.4,-41.12) (19.9,-41.6) (20,-44.16) (20,-47.97)
 (30,-38.05) (30,-41.65) (30,-42.29) (30,-43.57) (30,-47.76)};
\addplot[stem] table[x=x, y=lo, row sep=\\] {x lo hi\\ 0 -44.48 -41.41\\ 10 -44.8 -41.68\\ 20 -44.32 -41.17\\ 30 -44.19 -41.09\\};
\addplot[capbar] coordinates {(0,-41.41) (10,-41.68) (20,-41.17) (30,-41.09) (0,-44.48) (10,-44.8) (20,-44.32) (30,-44.19)};
\addplot[meanbar] coordinates {(0,-42.93) (10,-43.25) (20,-42.72) (30,-42.67)};
\end{axis}

% ---------------- Panel D ----------------
\begin{axis}[rpanel, at={(317.2pt,45.075pt)}, height=82.7pt, ymin=-8.9, ymax=149.3,
  ytick={0,40,80,120}, minor ytick={20,60,100,140}, ylabel={Input resistance (M\hspace{0.55em})},
  ylabel style={at={(axis description cs:-0.1714,0.5)}, anchor=center},
  xlabel={49TTX concentration (nM)},
  xlabel style={at={(axis description cs:0.5345,0)}, anchor=center, yshift=-18.6pt}]
\addplot[dots] coordinates {(0,129.2) (0,111) (0,106) (0,102) (0,81.5)
 (9.6,137.6) (10.4,133.9) (10,117.2) (10,102.1) (10,81.7)
 (19.6,141.4) (20.4,138.9) (20,117.2) (20,102.1) (20,87.9)
 (30,143.9) (30,133.9) (30,118.8) (30,102.9) (30,93.7)};
\addplot[stem] table[x=x, y=lo, row sep=\\] {x lo hi\\ 0 98.4 113.8\\ 10 104.1 124.7\\ 20 107.4 127.7\\ 30 109.3 127.7\\};
\addplot[capbar] coordinates {(0,113.8) (10,124.7) (20,127.7) (30,127.7) (0,98.4) (10,104.1) (20,107.4) (30,109.3)};
\addplot[meanbar] coordinates {(0,106.1) (10,114.5) (20,117.5) (30,118.8)};
\end{axis}
\end{tikzpicture}
\end{document}
